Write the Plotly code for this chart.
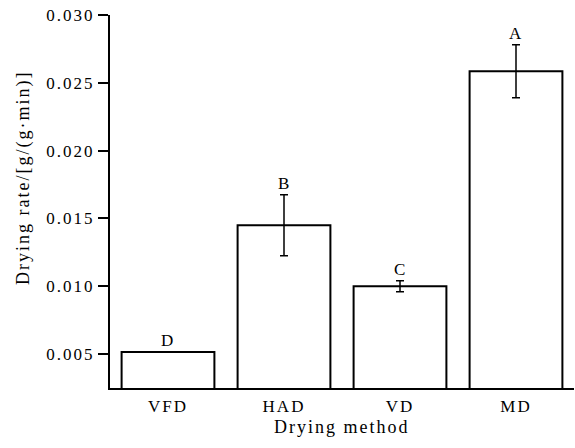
import plotly.graph_objects as go

methods = ["VFD", "HAD", "VD", "MD"]
rates = [0.00515, 0.0145, 0.0100, 0.02585]
errors = [0.0, 0.00225, 0.0004, 0.00195]
letters = ["D", "B", "C", "A"]
yticks = [0.005, 0.010, 0.015, 0.020, 0.025, 0.030]

FONT = "Liberation Serif, Times New Roman, serif"

fig = go.Figure()
fig.add_trace(go.Bar(
    x=methods, y=rates,
    width=0.8,
    marker=dict(color="white", line=dict(color="black", width=2)),
    error_y=dict(type="data", array=errors, visible=True, color="black",
                 thickness=1.5, width=4),
    showlegend=False,
))

for m, r, e, l in zip(methods, rates, errors, letters):
    fig.add_annotation(x=m, y=r + e, text=l, showarrow=False, xref="x", yref="y",
                       yanchor="bottom", yshift=0,
                       font=dict(family=FONT, size=17, color="black"))

# axis titles
fig.add_annotation(text="Drying rate/[g/(g·min)]", textangle=-90, showarrow=False,
                   xref="paper", yref="paper", x=(24 - 110) / 464, y=(388 - 178) / 373,
                   xanchor="center", yanchor="middle",
                   font=dict(family=FONT, size=18, color="black"))
fig.add_annotation(text="Drying method", showarrow=False,
                   xref="paper", yref="paper", x=0.5, y=-(427 - 388) / 373,
                   xanchor="center", yanchor="middle",
                   font=dict(family=FONT, size=18, color="black"))

fig.update_layout(
    width=575, height=448,
    margin=dict(l=110, r=1, t=15, b=60),
    plot_bgcolor="white", paper_bgcolor="white",
    font=dict(family=FONT, size=17, color="black"),
    bargap=0.2,
)
fig.update_xaxes(
    range=[-0.5, 3.5],
    showline=True, linecolor="black", linewidth=2,
    ticks="", showgrid=False, zeroline=False,
    tickfont=dict(family=FONT, size=17),
    ticklabelstandoff=2,
)
fig.update_yaxes(
    range=[0.0025, 0.030],
    tickvals=yticks, tickformat=".3f",
    showline=True, linecolor="black", linewidth=2,
    ticks="outside", ticklen=10, tickwidth=2, tickcolor="black",
    showgrid=False, zeroline=False,
    tickfont=dict(family=FONT, size=17),
)

post = """
document.body.style.margin='0';
document.querySelectorAll('.main-svg text').forEach(function(t){t.style.letterSpacing='2px';});
"""
fig.write_html("out.html", post_script=post, config={"displayModeBar": False})
